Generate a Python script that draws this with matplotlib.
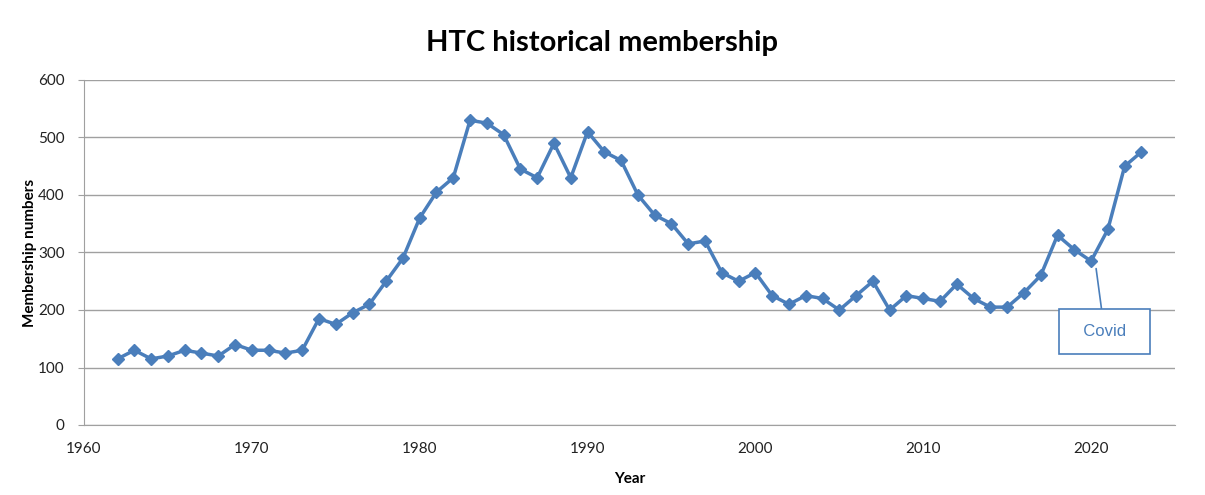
import matplotlib.pyplot as plt

plt.rcParams['font.family'] = ['Lato', 'DejaVu Sans']

years = list(range(1962, 2024))
members = [115, 130, 115, 120, 130, 125, 120, 140, 130, 130, 125, 130,
           185, 175, 195, 210, 250, 290, 360, 405, 430, 530, 525, 505,
           445, 430, 490, 430, 510, 475, 460, 400, 365, 350, 315, 320,
           265, 250, 265, 225, 210, 225, 220, 200, 225, 250, 200, 225,
           220, 215, 245, 220, 205, 205, 230, 260, 330, 305, 285, 340,
           450, 475]

line_color = '#4a7ebb'
grid_color = '#a0a0a0'

fig = plt.figure(figsize=(12.05, 4.95), dpi=100)
ax = fig.add_axes([84 / 1205, 1 - 425 / 495, (1175 - 84) / 1205, (425 - 80) / 495])

ax.plot(years, members, color=line_color, linewidth=2.5, marker='D', markersize=6,
        markerfacecolor=line_color, markeredgecolor=line_color)

ax.set_xlim(1960, 2025)
ax.set_ylim(0, 600)
ax.set_xticks(range(1960, 2021, 10))
ax.set_yticks(range(0, 601, 100))
ax.yaxis.grid(True, color=grid_color, linewidth=1)
ax.set_axisbelow(True)
for side in ['top', 'right']:
    ax.spines[side].set_visible(False)
for side in ['left', 'bottom']:
    ax.spines[side].set_color(grid_color)
ax.tick_params(axis='both', labelsize=11, colors='#222222')
ax.tick_params(axis='y', length=4, color=grid_color, pad=10)
ax.tick_params(axis='x', length=0, pad=12)

ax.set_xlabel('Year', fontsize=11, fontweight='bold', labelpad=12)
ax.set_ylabel('Membership numbers', fontsize=11, fontweight='bold', labelpad=1)
fig.suptitle('HTC historical membership', x=0.5, y=0.94, fontsize=21,
             fontweight='bold')

ax.annotate('  Covid  ', xy=(2020.3, 272), xytext=(2020.8, 163), ha='center', va='center',
            fontsize=12, color=line_color, family='Liberation Sans',
            bbox=dict(boxstyle='square,pad=0.9', fc='white', ec=line_color, lw=1.2),
            arrowprops=dict(arrowstyle='-', color=line_color, lw=1.2, shrinkA=0, shrinkB=0))

plt.savefig('out.png')
